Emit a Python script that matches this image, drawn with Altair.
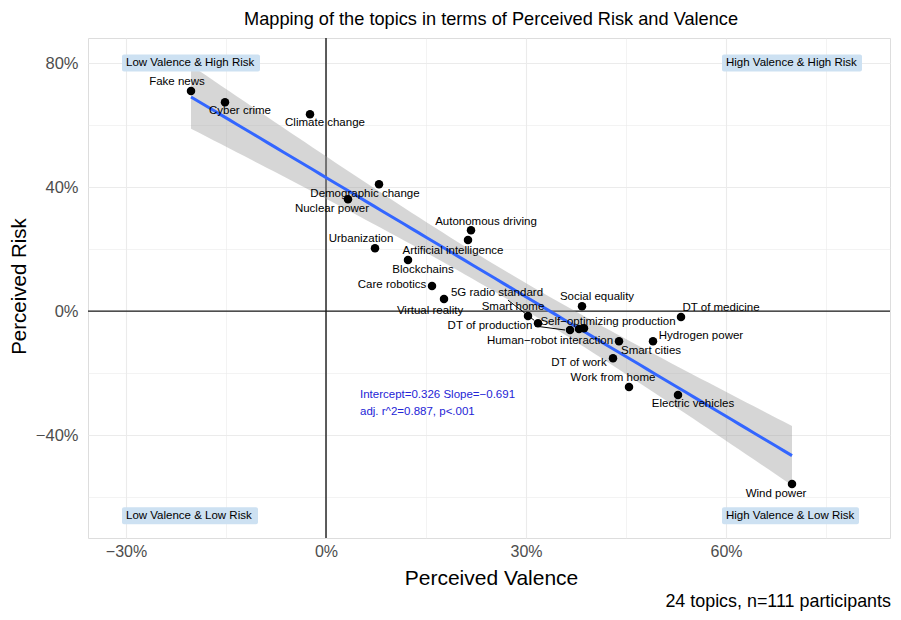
import altair as alt
import numpy as np
import pandas as pd

# ---------------- data ----------------
topics = ["Fake news", "Cyber crime", "Climate change", "Demographic change",
          "Nuclear power", "Autonomous driving", "Artificial intelligence",
          "Urbanization", "Blockchains", "Care robotics", "Virtual reality",
          "5G radio standard", "Smart home", "DT of production",
          "Self\u2212optimizing production", "Human\u2212robot interaction",
          "Social equality", "DT of medicine", "Smart cities", "Hydrogen power",
          "DT of work", "Work from home", "Electric vehicles", "Wind power"]
valence = [-0.2025, -0.1515, -0.024, 0.0795, 0.033, 0.2175, 0.213, 0.0735,
           0.123, 0.159, 0.177, 0.318, 0.303, 0.366, 0.387, 0.3795,
           0.384, 0.5325, 0.4395, 0.4905, 0.4305, 0.4545, 0.528, 0.699]
risk = [0.710, 0.674, 0.635, 0.409, 0.361, 0.261, 0.229, 0.203,
        0.165, 0.081, 0.039, -0.039, -0.016, -0.061, -0.055, -0.058,
        0.016, -0.019, -0.097, -0.097, -0.152, -0.245, -0.271, -0.558]

quad_text = ["Low Valence & High Risk", "High Valence & High Risk",
             "Low Valence & Low Risk", "High Valence & Low Risk"]
quad_x = [-0.30, 0.60, -0.30, 0.60]
quad_y = [0.80, 0.80, -0.66, -0.66]

stats_lines = ["Intercept=0.326 Slope=\u22120.691", "adj. r^2=0.887, p<.001"]
caption = "24 topics, n=111 participants"
title = "Mapping of the topics in terms of Perceived Risk and Valence"

x_major = [-0.3, 0.0, 0.3, 0.6]
x_minor = [-0.15, 0.15, 0.45, 0.75]
y_major = [-0.4, 0.0, 0.4, 0.8]
y_minor = [-0.6, -0.2, 0.2, 0.6]

# ---------------- layout / style ----------------
W, H = 802, 500
XDOM = [-0.357, 0.846]
YDOM = [-0.732, 0.881]
PX_X = W / (XDOM[1] - XDOM[0])
PX_Y = H / (YDOM[1] - YDOM[0])
FONT = "Liberation Sans"

# label offsets (pixels) of each label centre from its point
label_dx = [-14, 15, 15, -14, -16, 15, -15, -14, 15, -40, -14, -41, -15, -80,
            24, -29, 15, 40, 32, 48, -34, -16, 15, -16]
label_dy = [-9, 9, 9, 10, 10, -8, 11, -9, 10, -1, 12, -30, -9, -4,
            -6, 12, -9, -9, 10, -5, 5, -9, 9, 10]
# repel segments: topic, start offset, end offset (pixels from point)
segments = [("5G radio standard", (-30, -23), (-4, -3)),
            ("DT of production", (-35, -4), (-5, 0))]
quad_box_w = [138, 140, 136, 137]

df = pd.DataFrame({"topic": topics, "v": valence, "r": risk})
df["lx"] = df["v"] + np.array(label_dx) / PX_X
df["ly"] = df["r"] - np.array(label_dy) / PX_Y

# regression (lm) with 95% confidence band
v = np.array(valence); r = np.array(risk); n = len(v)
slope, icpt = np.polyfit(v, r, 1)
grid = np.linspace(v.min(), v.max(), 80)
fit = icpt + slope * grid
resid = r - (icpt + slope * v)
s = np.sqrt(np.sum(resid ** 2) / (n - 2))
se = s * np.sqrt(1 / n + (grid - v.mean()) ** 2 / np.sum((v - v.mean()) ** 2))
tcrit = 2.0739
band = pd.DataFrame({"v": grid, "fit": fit, "lo": fit - tcrit * se, "hi": fit + tcrit * se})

xs = alt.Scale(domain=XDOM, nice=False, zero=False)
ys = alt.Scale(domain=YDOM, nice=False, zero=False)

def pct_expr(step):
    return ("abs(round(datum.value*100)) % " + str(step) + " != 0 ? '' : "
            "(datum.value < -0.001 ? '\u2212' + format(abs(datum.value), '.0%') : format(abs(datum.value), '.0%'))")

def grid_w(step):
    return {"condition": {"test": "abs(round(datum.value*100)) % " + str(step) + " == 0", "value": 1.1},
            "value": 0.6}

x_axis = alt.Axis(values=sorted(x_major + x_minor), labelExpr=pct_expr(30), grid=True,
                  gridColor="#EBEBEB", gridWidth=grid_w(30), domain=False, ticks=False,
                  labelFont=FONT, labelFontSize=16, labelColor="#4D4D4D", labelPadding=5,
                  title="Perceived Valence", titleFont=FONT, titleFontSize=21,
                  titleFontWeight="normal", titleColor="#000000",
                  titleX=W / 2 + 2, titleY=40, titleBaseline="middle", labelFlush=False)
y_axis = alt.Axis(values=sorted(y_major + y_minor), labelExpr=pct_expr(40), grid=True,
                  gridColor="#EBEBEB", gridWidth=grid_w(40), domain=False, ticks=False,
                  labelFont=FONT, labelFontSize=16.5, labelColor="#4D4D4D", labelPadding=10,
                  title="Perceived Risk", titleFont=FONT, titleFontSize=20.5,
                  titleFontWeight="normal", titleColor="#000000",
                  titleX=-69, titleY=H / 2 - 2, titleBaseline="middle", titleAngle=-90,
                  labelFlush=False)

zero = pd.DataFrame({"z": [0.0]})
vline = alt.Chart(zero).mark_rule(color="#1a1a1a", strokeWidth=1.4).encode(
    x=alt.X("z:Q", scale=xs, axis=x_axis))
hline = alt.Chart(zero).mark_rule(color="#1a1a1a", strokeWidth=1.4).encode(
    y=alt.Y("z:Q", scale=ys, axis=y_axis))

band_layer = alt.Chart(band).mark_area(color="#999999", opacity=0.4).encode(
    x=alt.X("v:Q", scale=xs), y=alt.Y("lo:Q", scale=ys), y2="hi:Q")
line_layer = alt.Chart(band).mark_line(color="#3366FF", strokeWidth=3).encode(
    x=alt.X("v:Q", scale=xs), y=alt.Y("fit:Q", scale=ys))
points = alt.Chart(df).mark_circle(color="#000000", opacity=1, size=72).encode(
    x=alt.X("v:Q", scale=xs), y=alt.Y("r:Q", scale=ys))

seg_rows = []
for name, (sx, sy), (ex, ey) in segments:
    i = topics.index(name)
    seg_rows.append({"x1": valence[i] + sx / PX_X, "y1": risk[i] - sy / PX_Y,
                     "x2": valence[i] + ex / PX_X, "y2": risk[i] - ey / PX_Y})
seg_layer = alt.Chart(pd.DataFrame(seg_rows)).mark_rule(color="#000000", strokeWidth=1).encode(
    x=alt.X("x1:Q", scale=xs), y=alt.Y("y1:Q", scale=ys), x2="x2:Q", y2="y2:Q")

labels = alt.Chart(df).mark_text(font=FONT, fontSize=11.5, color="#000000",
                                 align="center", baseline="middle").encode(
    x=alt.X("lx:Q", scale=xs), y=alt.Y("ly:Q", scale=ys), text="topic:N")

quad_layers = []
for t, qx, qy, bw in zip(quad_text, quad_x, quad_y, quad_box_w):
    qd = pd.DataFrame({"qx": [qx], "qy": [qy], "t": [t]})
    quad_layers.append(alt.Chart(qd).mark_rect(
        color="#cde1f2", cornerRadius=2, xOffset=-4, x2Offset=bw - 4,
        yOffset=-8.5, y2Offset=8.5).encode(
        x=alt.X("qx:Q", scale=xs), x2="qx:Q", y=alt.Y("qy:Q", scale=ys), y2="qy:Q"))
    quad_layers.append(alt.Chart(qd).mark_text(
        font=FONT, fontSize=11.5, color="#000000", align="left", baseline="middle").encode(
        x=alt.X("qx:Q", scale=xs), y=alt.Y("qy:Q", scale=ys), text="t:N"))

stats = pd.DataFrame({"s": stats_lines, "sx": [0.051, 0.051],
                      "sy": [-0.271, -0.271 - 17 / PX_Y]})
stats_layer = alt.Chart(stats).mark_text(font=FONT, fontSize=11.5, color="#2424d6",
                                         align="left", baseline="middle").encode(
    x=alt.X("sx:Q", scale=xs), y=alt.Y("sy:Q", scale=ys), text="s:N")

one = pd.DataFrame({"t": [title], "c": [caption]})
title_layer = alt.Chart(one).mark_text(font=FONT, fontSize=18.2, color="#000000",
                                       align="center", baseline="alphabetic").encode(
    x=alt.value(W / 2 + 2), y=alt.value(-13.5), text="t:N")
caption_layer = alt.Chart(one).mark_text(font=FONT, fontSize=17.9, color="#000000",
                                         align="right", baseline="alphabetic").encode(
    x=alt.value(803), y=alt.value(569), text="c:N")

chart = alt.layer(
    vline, hline, band_layer, line_layer, points, seg_layer, labels,
    *quad_layers, stats_layer, title_layer, caption_layer
).properties(
    width=W, height=H,
    autosize=alt.AutoSizeParams(type="none"),
    padding={"left": 80, "top": 30, "right": 3, "bottom": 74},
).configure_view(stroke=None).configure(background="#ffffff")

chart.save("out.html", embed_options={"renderer": "svg", "actions": False})
